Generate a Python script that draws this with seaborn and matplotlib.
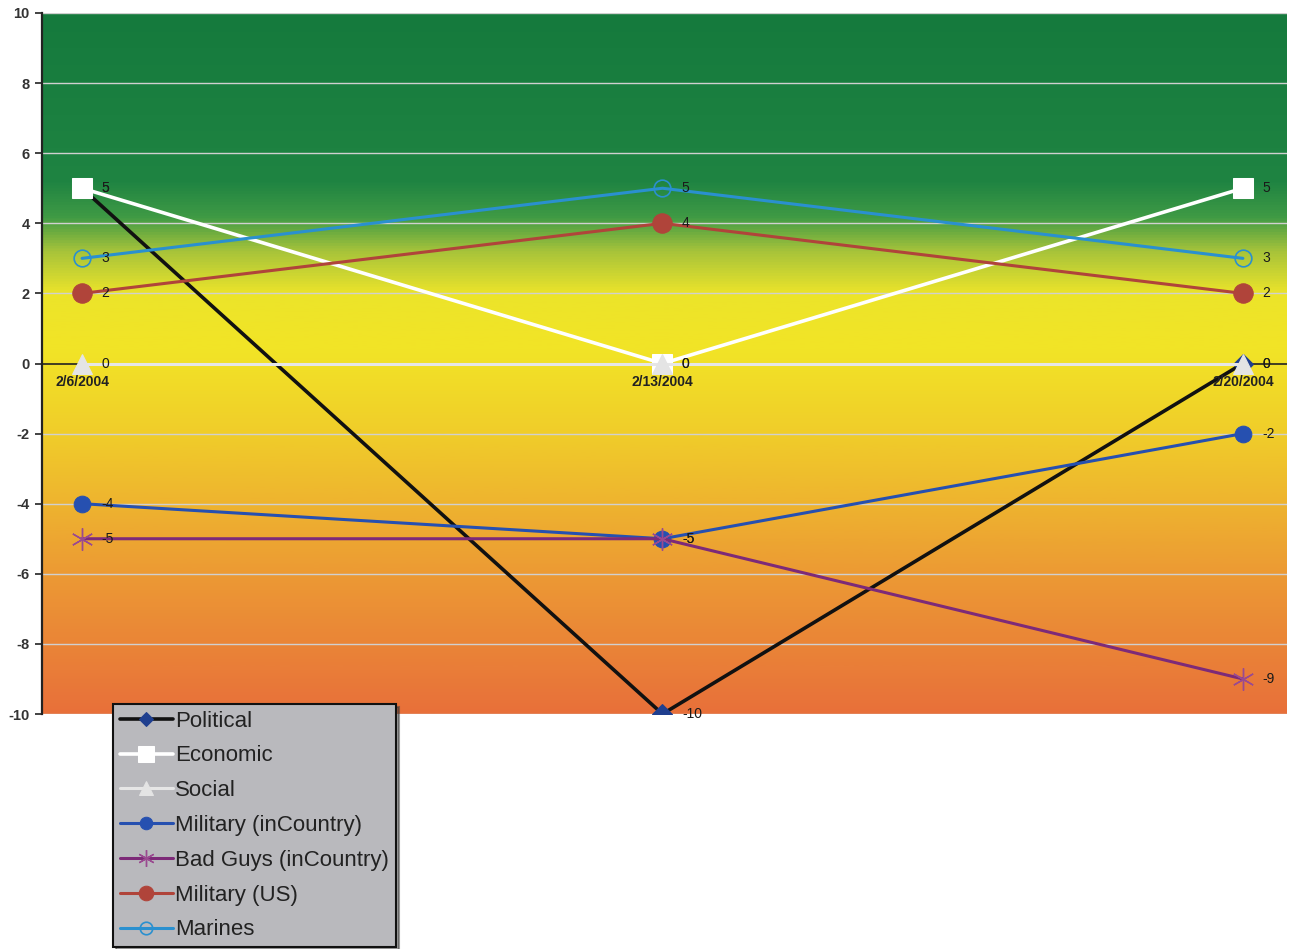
import numpy as np
import pandas as pd
import matplotlib
matplotlib.use("Agg")
import matplotlib.pyplot as plt
from matplotlib.colors import LinearSegmentedColormap
import seaborn as sns

dates = ["2/6/2004", "2/13/2004", "2/20/2004"]
political = [5, -10, 0]
economic = [5, 0, 5]
social = [0, 0, 0]
military_in = [-4, -5, -2]
bad_guys = [-5, -5, -9]
military_us = [2, 4, 2]
marines = [3, 5, 3]
y_ticks = [-10, -8, -6, -4, -2, 0, 2, 4, 6, 8, 10]

series = [
    ("Political", political, dict(color="#111111", lw=2.6, marker="D", ms=10,
                                  mfc="#1f3f8f", mec="#1f3f8f")),
    ("Economic", economic, dict(color="#ffffff", lw=2.6, marker="s", ms=15,
                                mfc="#ffffff", mec="#ffffff")),
    ("Social", social, dict(color="#e6e6e6", lw=2.2, marker="^", ms=14,
                            mfc="#e4e4e4", mec="#e4e4e4")),
    ("Military (inCountry)", military_in, dict(color="#2650b0", lw=2.2, marker="o", ms=12,
                                               mfc="#2650b0", mec="#2650b0")),
    ("Bad Guys (inCountry)", bad_guys, dict(color="#7d2a78", lw=2.2, marker=(6, 2, 0), ms=16,
                                            mfc="#8e3e88", mec="#9a4a90", mew=1.0)),
    ("Military (US)", military_us, dict(color="#b0443a", lw=2.2, marker="o", ms=14,
                                        mfc="#b0443a", mec="#b0443a")),
    ("Marines", marines, dict(color="#2a90cf", lw=2.2, marker="o", ms=12,
                              mfc="none", mec="#2a90cf", mew=1.2)),
]

sns.set_theme(style="white")
plt.rcParams["font.family"] = ["Liberation Sans", "DejaVu Sans"]

fig = plt.figure(figsize=(12.92, 9.49), dpi=100)
ax = fig.add_axes([42 / 1292, 1 - 714 / 949, (1287 - 42) / 1292, (714 - 13) / 949])

x = np.arange(len(dates))
xlim = (-0.069, 2.076)
ax.set_xlim(*xlim)
ax.set_ylim(-10, 10)

# vertical colour band: green at top, yellow in the middle, orange at the bottom
stops = [
    (0.00, "#e8703a"),
    (0.20, "#ec9a34"),
    (0.40, "#f0cd2a"),
    (0.52, "#f2e426"),
    (0.60, "#ece42a"),
    (0.66, "#a8c43a"),
    (0.71, "#3f9a45"),
    (0.76, "#1f8442"),
    (1.00, "#157a3d"),
]
cmap = LinearSegmentedColormap.from_list("band", stops)
grad = np.linspace(0, 1, 512).reshape(-1, 1)
ax.imshow(grad, cmap=cmap, aspect="auto", origin="lower",
          extent=[xlim[0], xlim[1], -10, 10], zorder=0)

for yv in y_ticks:
    if yv != 0:
        ax.axhline(yv, color="#d0d0d0", lw=1.0, zorder=1)
ax.axhline(0, color="#222222", lw=1.2, zorder=1)

for i, (name, vals, st) in enumerate(series):
    df = pd.DataFrame({"x": x, "y": vals})
    sns.lineplot(data=df, x="x", y="y", ax=ax, label=name, zorder=3 + i,
                 legend=False, **st)

# value labels next to each point
for name, vals, st in series:
    for xi, v in zip(x, vals):
        ax.annotate(f"{v}", (xi, v), xytext=(14, 0), textcoords="offset points",
                    va="center", ha="left", fontsize=10, color="#1a1a1a", zorder=20)

# category labels sit just under the zero line
for xi, d in zip(x, dates):
    ax.text(xi, -0.33, d, ha="center", va="top", fontsize=10, fontweight="bold",
            color="#222222", zorder=20)

ax.set_xticks([])
ax.set_yticks(y_ticks)
ax.set_yticklabels([str(t) for t in y_ticks], fontsize=10.5, fontweight="bold", color="#333333")
ax.tick_params(axis="y", length=5, width=1.2, color="#222222", left=True, pad=4)
ax.set_xlabel("")
ax.set_ylabel("")
for s in ["top", "right", "bottom"]:
    ax.spines[s].set_visible(False)
ax.spines["left"].set_color("#222222")
ax.spines["left"].set_linewidth(1.6)

handles, labels = ax.get_legend_handles_labels()
leg = fig.legend(handles, labels, loc="upper left",
                 bbox_to_anchor=(113 / 1292, 1 - 704 / 949), bbox_transform=fig.transFigure,
                 fontsize=16, frameon=True, fancybox=False, shadow=True,
                 facecolor="#b9b9bd", edgecolor="#111111", framealpha=1,
                 handlelength=2.4, handletextpad=0.1, labelspacing=0.62,
                 borderpad=0.3, borderaxespad=0, markerscale=0.75)
leg.get_frame().set_linewidth(1.5)
for t in leg.get_texts():
    t.set_color("#222222")

fig.savefig("out.png", dpi=100, facecolor="white")
